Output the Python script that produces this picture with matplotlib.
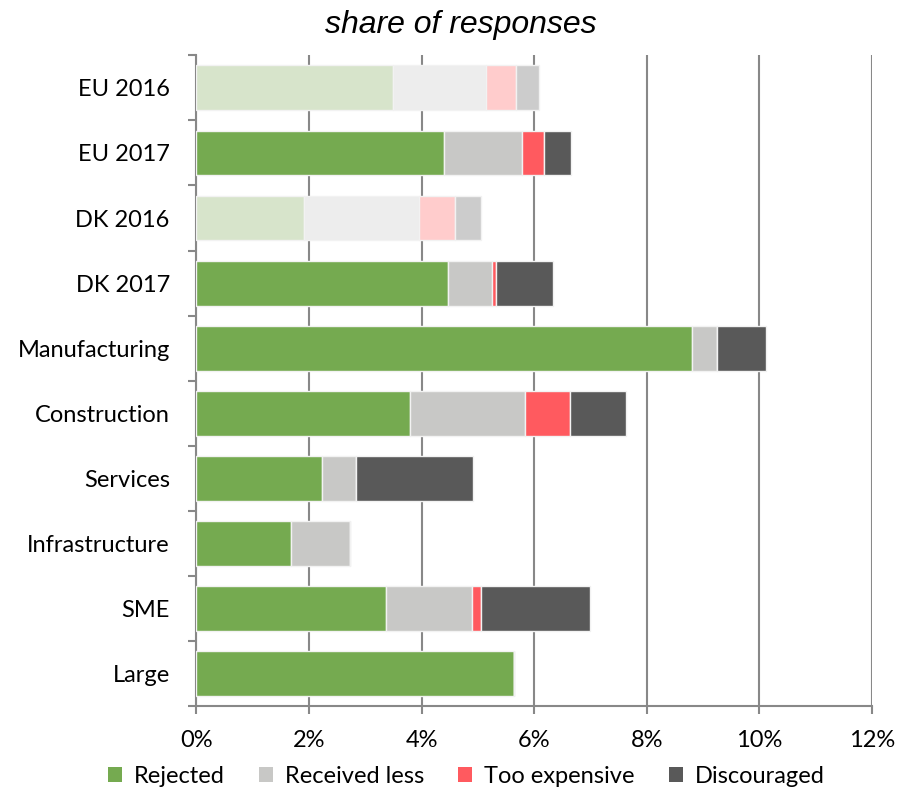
import numpy as np
import matplotlib
matplotlib.use("Agg")
import matplotlib.pyplot as plt
from matplotlib.patches import Patch

plt.rcParams["font.family"] = ["Lato", "DejaVu Sans"]

categories = ["EU 2016", "EU 2017", "DK 2016", "DK 2017", "Manufacturing",
              "Construction", "Services", "Infrastructure", "SME", "Large"]
series = ["Rejected", "Received less", "Too expensive", "Discouraged"]

# shares in percent, one list per series, in category order
rejected = [3.50, 4.40, 1.92, 4.47, 8.81, 3.80, 2.23, 1.69, 3.37, 5.65]
received_less = [1.65, 1.39, 2.04, 0.78, 0.44, 2.03, 0.60, 1.04, 1.53, 0.00]
too_expensive = [0.52, 0.39, 0.64, 0.07, 0.00, 0.80, 0.00, 0.00, 0.15, 0.00]
discouraged = [0.41, 0.48, 0.46, 1.01, 0.87, 1.00, 2.08, 0.00, 1.95, 0.00]

# 2016 rows are drawn in faded colours
faded_rows = ["EU 2016", "DK 2016"]

colors = ["#75AA50", "#C8C8C6", "#FF5A5F", "#595959"]
faded = ["#D7E4CB", "#EDEDED", "#FFCCCC", "#CCCCCC"]

values = [rejected, received_less, too_expensive, discouraged]

fig, ax = plt.subplots(figsize=(9, 7.91), dpi=100)
fig.subplots_adjust(left=0.218, right=0.969, top=0.930, bottom=0.1075)

n = len(categories)
ypos = np.arange(n)[::-1]
left = np.zeros(n)
for k, (name, vals) in enumerate(zip(series, values)):
    vals = np.array(vals)
    cols = [faded[k] if c in faded_rows else colors[k] for c in categories]
    ax.barh(ypos, vals, left=left, height=0.69, color=cols,
            edgecolor="#F2F2F2", linewidth=1.0, zorder=3)
    left += vals

ax.set_xlim(0, 12)
ax.set_ylim(-0.5, n - 0.5)
ax.set_xticks(np.arange(0, 13, 2))
ax.set_xticklabels([f"{t}%" for t in range(0, 13, 2)], fontsize=17)
ax.set_yticks(ypos)
ax.set_yticklabels(categories, fontsize=17)
ax.set_yticks(np.arange(-0.5, n, 1.0), minor=True)
ax.tick_params(axis="y", which="major", length=0, pad=19)
ax.tick_params(axis="y", which="minor", length=6, width=1.5, color="#888888")
ax.tick_params(axis="x", length=6, width=1.5, color="#888888", pad=11)

ax.grid(axis="x", color="#888888", linewidth=1.5, zorder=0)
for s in ["top", "right"]:
    ax.spines[s].set_visible(False)
for s in ["left", "bottom"]:
    ax.spines[s].set_color("#888888")
    ax.spines[s].set_linewidth(1.5)

fig.text(0.512, 0.968, "share of responses", fontsize=23, style="italic",
         family=["Liberation Sans", "DejaVu Sans"], ha="center", va="center")

handles = [Patch(facecolor=c, edgecolor="none") for c in colors]
fig.legend(handles, series, loc="center", bbox_to_anchor=(0.518, 0.018),
           ncol=4, frameon=False, fontsize=17, handlelength=0.6,
           handleheight=0.6, handletextpad=0.5, columnspacing=1.45)

fig.savefig("out.png", dpi=100)
